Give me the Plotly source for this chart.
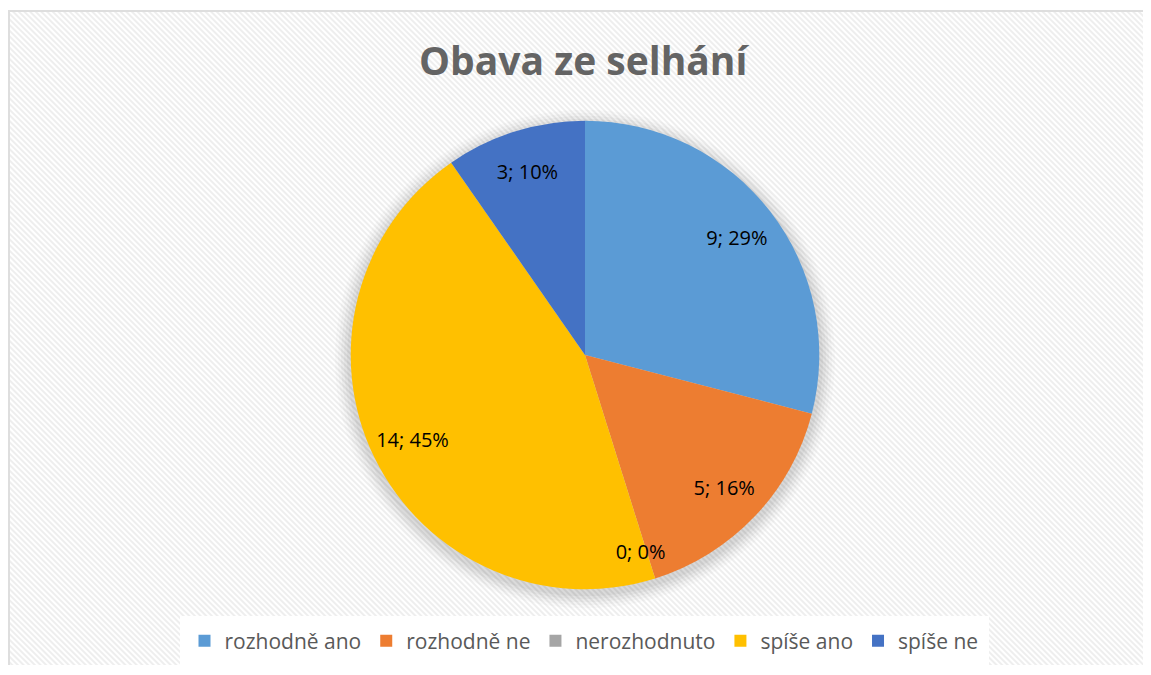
import plotly.graph_objects as go
import base64

# window is 1151x675, the page body has an 8px margin on every side
W, H = 1151, 675
OFF = 8
FW, FH = W - 2 * OFF, H - 2 * OFF

categories = ["rozhodně ano", "rozhodně ne", "nerozhodnuto", "spíše ano", "spíše ne"]
values = [9, 5, 0, 14, 3]
colors = ["#5B9BD5", "#ED7D31", "#A5A5A5", "#FFC000", "#4472C4"]
title_text = "Obava ze selhání"

FONT = "Open Sans"
LABEL_FONT = dict(family=FONT, size=20, color="#000000")


def px(x):
    return (x - OFF) / FW


def py(y):
    return 1 - (y - OFF) / FH


# hatched background with a thin border (left/top visible)
svg = f'''<svg xmlns="http://www.w3.org/2000/svg" width="{FW}" height="{FH}">
<defs><pattern id="p" width="4" height="4" patternUnits="userSpaceOnUse" patternTransform="rotate(-45)">
<rect width="4" height="4" fill="#ffffff"/><rect width="2" height="4" fill="#eeeeee"/></pattern></defs>
<rect x="0" y="0" width="{FW}" height="{FH}" fill="#ffffff"/>
<rect x="1" y="3" width="{FW + 10}" height="{FH + 10}" fill="url(#p)" stroke="#dedede" stroke-width="2"/>
</svg>'''
src = "data:image/svg+xml;base64," + base64.b64encode(svg.encode()).decode()

# pie geometry (radius 235 px)
dom_x = [px(350), px(820)]
dom_y = [py(591), py(121)]

common = dict(labels=categories, values=values, sort=False, direction="clockwise", rotation=0)

pie = go.Pie(
    **common,
    marker=dict(colors=colors, line=dict(width=0)),
    textinfo="none",
    domain=dict(x=dom_x, y=dom_y),
    hoverinfo="label+value+percent",
    showlegend=True,
)

# transparent ring carrying the data labels (centred in the ring, ~0.82 r)
label_ring = go.Pie(
    **common,
    hole=0.64,
    marker=dict(colors=["rgba(0,0,0,0)"] * len(values), line=dict(width=0)),
    texttemplate="%{value}; %{percent:.0%}",
    textposition=["inside" if v > 0 else "none" for v in values],
    insidetextorientation="horizontal",
    textfont=LABEL_FONT,
    domain=dict(x=dom_x, y=dom_y),
    hoverinfo="skip",
    showlegend=False,
)

# helper for labels of empty slices (placed just outside a smaller circle)
rz = 204
sx, sy = -37, -10
zero_labels = go.Pie(
    **common,
    marker=dict(colors=["rgba(0,0,0,0)"] * len(values), line=dict(width=0)),
    texttemplate="%{value}; %{percent:.0%}",
    textposition=["outside" if v == 0 else "none" for v in values],
    textfont=LABEL_FONT,
    domain=dict(x=[px(585 + sx - rz), px(585 + sx + rz)], y=[py(356 + sy + rz), py(356 + sy - rz)]),
    hoverinfo="skip",
    showlegend=False,
)

fig = go.Figure([pie, label_ring, zero_labels])

# soft shadow around the pie
cx = (dom_x[0] + dom_x[1]) / 2
cy = (dom_y[0] + dom_y[1]) / 2
rx = (dom_x[1] - dom_x[0]) / 2
ry = (dom_y[1] - dom_y[0]) / 2
shapes = []
for i, a in enumerate([0.02, 0.025, 0.03, 0.035, 0.04]):
    g = (5 - i) * 3 / FW
    gy = (5 - i) * 3 / FH
    shapes.append(dict(type="circle", xref="paper", yref="paper",
                       x0=cx - rx - g, x1=cx + rx + g,
                       y0=cy - ry - gy - 4 / FH, y1=cy + ry + gy - 4 / FH,
                       fillcolor=f"rgba(0,0,0,{a})", line=dict(width=0), layer="below"))

fig.update_layout(
    width=FW, height=FH,
    margin=dict(l=0, r=0, t=0, b=0),
    paper_bgcolor="#ffffff",
    plot_bgcolor="#ffffff",
    images=[dict(source=src, xref="paper", yref="paper", x=0, y=1, sizex=1, sizey=1,
                 xanchor="left", yanchor="top", sizing="stretch", layer="below")],
    shapes=shapes,
    annotations=[dict(text=f"<b>{title_text}</b>", xref="paper", yref="paper",
                      x=px(584), y=py(60), xanchor="center", yanchor="middle",
                      showarrow=False, font=dict(family=FONT, size=39, color="#646464"))],
    legend=dict(orientation="h", x=px(584), xanchor="center", y=py(643), yanchor="middle",
                bgcolor="#ffffff", bordercolor="#ffffff", borderwidth=5,
                font=dict(family=FONT, size=21, color="#595959"),
                itemsizing="constant", traceorder="normal"),
)

fig.write_html("out.html")
